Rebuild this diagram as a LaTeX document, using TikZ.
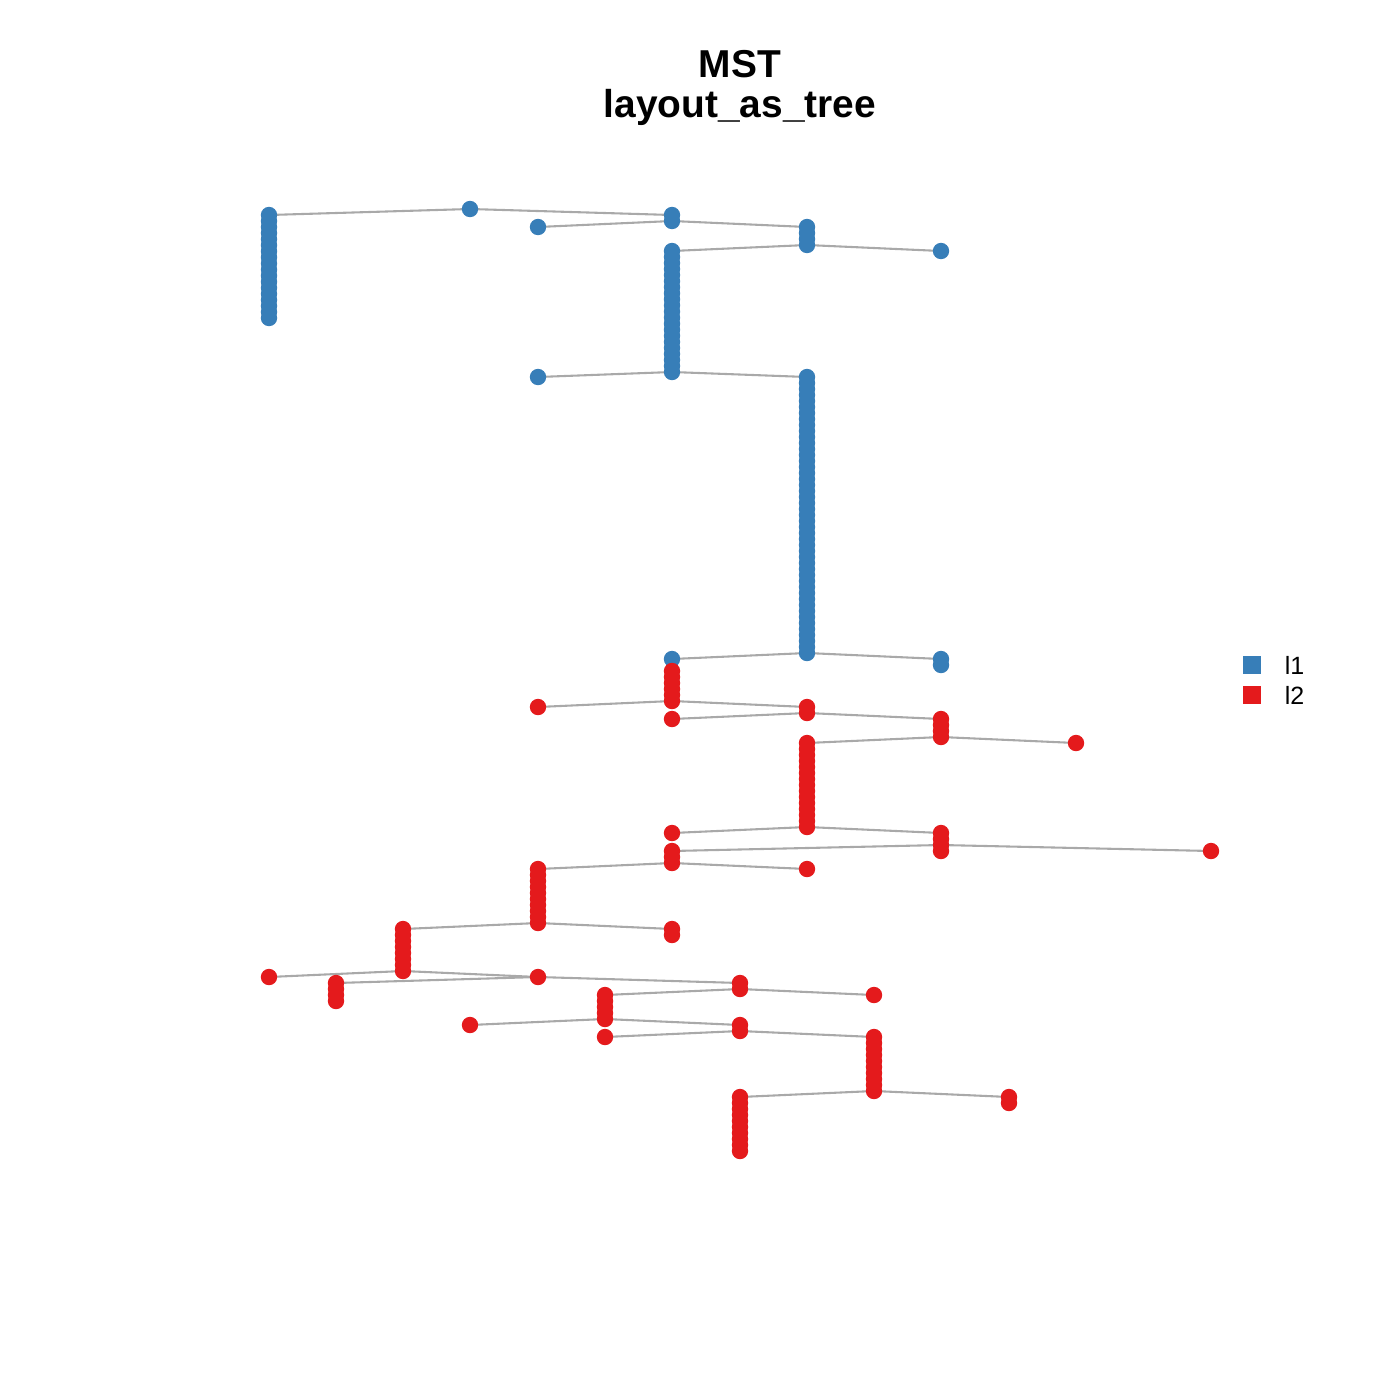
\documentclass[tikz,border=0pt]{standalone}
\usepackage{fontspec}
\setmainfont{Liberation Sans}
\usepackage{xcolor}
\usepackage{tikz}
\usetikzlibrary{backgrounds, positioning}

\definecolor{setblue}{HTML}{377EB8}
\definecolor{setred}{HTML}{E41A1C}
\definecolor{edgegray}{HTML}{A9A9A9}

\tikzset{
  vtx/.style={circle, fill=#1, inner sep=0pt, minimum size=5.9pt},
  edge/.style={draw=edgegray, line width=0.75pt},
  keybox/.style={fill=#1, inner sep=0pt, minimum size=6.8pt}
}

% name, x, top y, bottom y, gaps, colour
\newcommand{\vstack}[6]{%
  \foreach \k in {0,...,#5} {
    \node[vtx=#6] (#1-\k) at ({#2},{#3+\k*(#4-#3)/max(#5,1)}) {};
  }%
}

\begin{document}
\begin{tikzpicture}[x=0.36pt, y=-0.36pt, every node/.style={inner sep=0pt}]
    \useasboundingbox (0,0) rectangle (1400,1400);
    \node[anchor=base, font=\bfseries\fontsize{14}{17}\selectfont] (title) at (740,77) {MST};
    \node[anchor=base, font=\bfseries\fontsize{14}{17}\selectfont] (subtitle) at (740,117) {layout\_as\_tree};
    \foreach \n/\x/\t/\u/\g/\col in {
        b1/269/215/318/17/setblue, b2/470/209/209/0/setblue, b3/672/215/221/1/setblue,
        b4/538/227/227/0/setblue, b5/807/227/245/3/setblue, b6/672/251/372/20/setblue,
        b7/941/251/251/0/setblue, b8/538/377/377/0/setblue, b9/807/377/653/46/setblue,
        b10/672/659/659/0/setblue, b11/941/659/665/1/setblue,
        r1/672/671/701/5/setred, r2/538/707/707/0/setred, r3/807/707/713/1/setred,
        r4/672/719/719/0/setred, r5/941/719/737/3/setred, r6/807/743/827/14/setred,
        r7/1076/743/743/0/setred, r8/672/833/833/0/setred, r9/941/833/851/3/setred,
        r10/672/851/863/2/setred, r11/1211/851/851/0/setred, r12/807/869/869/0/setred,
        r13/538/869/923/9/setred, r14/403/929/971/7/setred, r15/672/929/935/1/setred,
        r16/269/977/977/0/setred, r17/538/977/977/0/setred, r18/336/983/1001/3/setred,
        r19/740/983/989/1/setred, r20/605/995/1019/4/setred, r21/874/995/995/0/setred,
        r22/470/1025/1025/0/setred, r23/740/1025/1031/1/setred, r24/605/1037/1037/0/setred,
        r25/874/1037/1091/9/setred, r26/740/1097/1151/9/setred, r27/1009/1097/1103/1/setred} {
        \vstack{\n}{\x}{\t}{\u}{\g}{\col}
    }
    \begin{scope}[on background layer]
        \foreach \a/\b in {b1-0/b2-0, b2-0/b3-0, b4-0/b3-1, b3-1/b5-0, b5-3/b6-0, b5-3/b7-0,
            b8-0/b6-20, b6-20/b9-0, b10-0/b9-46, b9-46/b11-0,
            r2-0/r1-5, r1-5/r3-0, r4-0/r3-1, r3-1/r5-0, r6-0/r5-3, r5-3/r7-0,
            r8-0/r6-14, r6-14/r9-0, r10-0/r9-2, r9-2/r11-0, r13-0/r10-2, r10-2/r12-0,
            r14-0/r13-9, r13-9/r15-0, r16-0/r14-7, r14-7/r17-0, r18-0/r17-0, r17-0/r19-0,
            r20-0/r19-1, r19-1/r21-0, r22-0/r20-4, r20-4/r23-0, r24-0/r23-1, r23-1/r25-0,
            r26-0/r25-9, r25-9/r27-0} {
            \draw[edge] (\a.center) -- (\b.center);
        }
    \end{scope}
    \node[keybox=setblue] (key1) at (1252,665) {};
    \node[keybox=setred] (key2) at (1252,695) {};
    \node[anchor=west, font=\fontsize{9}{11}\selectfont, right=8pt of key1] (lab1) {l1};
    \node[anchor=west, font=\fontsize{9}{11}\selectfont, right=8pt of key2] (lab2) {l2};
\end{tikzpicture}
\end{document}
